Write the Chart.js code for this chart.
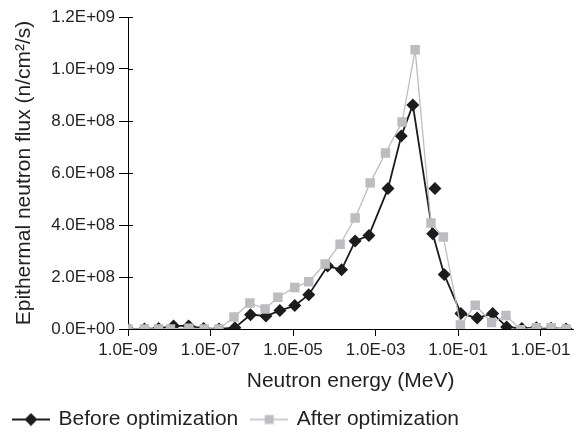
<!DOCTYPE html>
<html><head><meta charset="utf-8">
<script src="https://cdn.jsdelivr.net/npm/chart.js@4/dist/chart.umd.min.js"></script>
<style>html,body{margin:0;padding:0;background:#fff}#wrap{width:580px;height:433px}</style>
</head><body><div id="wrap"><canvas id="c" width="580" height="433"></canvas></div>
<script>
// ---- data ----
const seriesNames = ['Before optimization', 'After optimization'];
const beforeEnergy = [1.0e-9, 2.5e-9, 5.5e-9, 1.27e-8, 2.95e-8, 6.8e-8, 1.6e-7, 3.9e-7, 9.3e-7, 2.2e-6,
  4.8e-6, 1.1e-5, 2.4e-5, 6.9e-5, 1.5e-4, 3.2e-4, 6.9e-4, 2.0e-3, 4.2e-3, 8.0e-3,
  2.43e-2, 4.6e-2, 0.117, 0.29, 0.69, 1.5, 3.5, 7.9, 18, 41.5];
const beforeFlux = [0, 0, 2e6, 1.2e7, 1.2e7, 2e6, 0, 5e6, 5.5e7, 5.0e7,
  7.1e7, 9.0e7, 1.32e8, 2.42e8, 2.28e8, 3.38e8, 3.6e8, 5.4e8, 7.42e8, 8.62e8,
  3.66e8, 2.1e8, 6.0e7, 4.2e7, 6.0e7, 8e6, 2e6, 5e6, 3e6, 0];
const beforeExtraEnergy = [2.75e-2];
const beforeExtraFlux = [5.4e8];
const afterEnergy = [1.0e-9, 2.5e-9, 5.5e-9, 1.07e-8, 3.0e-8, 7.0e-8, 1.6e-7, 3.7e-7, 9.0e-7, 2.1e-6,
  4.3e-6, 1.1e-5, 2.4e-5, 6.0e-5, 1.38e-4, 3.2e-4, 7.4e-4, 1.74e-3, 4.4e-3, 9.1e-3,
  2.2e-2, 4.4e-2, 0.114, 0.26, 0.65, 1.45, 3.3, 7.9, 18, 41.5];
const afterFlux = [0, 0, 0, 0, 3e6, 0, 0, 4.6e7, 1.0e8, 7.7e7,
  1.22e8, 1.6e8, 1.82e8, 2.5e8, 3.26e8, 4.27e8, 5.62e8, 6.77e8, 7.96e8, 1.074e9,
  4.08e8, 3.54e8, 1.5e7, 9.1e7, 2.5e7, 5.2e7, -3e6, 5e6, 5e6, 0];
const xTickValues = [1e-9, 1e-7, 1e-5, 1e-3, 1e-1, 1e1];
const xTickLabels = ['1.0E-09', '1.0E-07', '1.0E-05', '1.0E-03', '1.0E-01', '1.0E-01'];
const yTickValues = [0, 2e8, 4e8, 6e8, 8e8, 1e9, 1.2e9];
const yTickLabels = ['0.0E+00', '2.0E+08', '4.0E+08', '6.0E+08', '8.0E+08', '1.0E+09', '1.2E+09'];
const xAxisTitle = 'Neutron energy (MeV)';
const yAxisTitle = 'Epithermal neutron flux (n/cm\u00B2/s)';

// ---- styles ----
const BLACK = '#1c1c1c';
const GREY = '#bcbdc0';
const FONT = 'Liberation Sans, Arial, sans-serif';
const TEXT = '#231f20';

const beforeData = beforeEnergy.map((x, i) => ({x, y: beforeFlux[i]}));
beforeData.push({x: beforeExtraEnergy[0], y: null});
beforeExtraEnergy.forEach((x, i) => beforeData.push({x, y: beforeExtraFlux[i]}));
const afterData = afterEnergy.map((x, i) => ({x, y: afterFlux[i]}));

function legendImg(lineColor, lineW, shape, fill) {
  const c = document.createElement('canvas');
  c.width = 38; c.height = 14;
  const g = c.getContext('2d');
  g.strokeStyle = lineColor; g.lineWidth = lineW;
  g.beginPath(); g.moveTo(0, 7); g.lineTo(38, 7); g.stroke();
  g.fillStyle = fill;
  if (shape === 'diamond') {
    g.beginPath(); g.moveTo(12.5, 7); g.lineTo(19, 0.5); g.lineTo(25.5, 7); g.lineTo(19, 13.5); g.closePath(); g.fill();
  } else {
    g.fillRect(14.5, 2.5, 9, 9);
  }
  return c;
}
const legendImgs = [legendImg(BLACK, 1.8, 'diamond', BLACK), legendImg(GREY, 1.3, 'square', GREY)];

const innerTicks = {
  id: 'innerTicks',
  beforeDatasetsDraw(chart) {
    const {ctx, chartArea, scales} = chart;
    const y = scales.y;
    ctx.save();
    ctx.strokeStyle = '#000'; ctx.lineWidth = 1;
    y.ticks.forEach(t => {
      const py = Math.round(y.getPixelForValue(t.value)) + 0.5;
      ctx.beginPath(); ctx.moveTo(chartArea.left, py); ctx.lineTo(chartArea.left + 5, py); ctx.stroke();
    });
    ctx.restore();
  }
};
const legendHeight = {
  id: 'legendHeight',
  beforeUpdate(chart) {
    const lg = chart.legend;
    if (lg && !lg._patched) {
      const orig = lg.fit;
      lg.fit = function () { orig.call(this); this.height = 38; };
      lg._patched = true;
    }
  }
};

new Chart(document.getElementById('c'), {
  type: 'scatter',
  data: {
    datasets: [
      {label: seriesNames[0], data: beforeData, showLine: true, borderColor: BLACK, backgroundColor: BLACK,
       borderWidth: 1.8, pointStyle: 'rectRot', pointRadius: 6.5, pointBorderWidth: 0, order: 1},
      {label: seriesNames[1], data: afterData, showLine: true, borderColor: GREY, backgroundColor: GREY,
       borderWidth: 1.3, pointStyle: 'rect', pointRadius: 6.7, pointBorderWidth: 0, order: 0}
    ]
  },
  options: {
    responsive: false,
    animation: false,
    devicePixelRatio: 1,
    layout: {padding: {left: 0, right: 3, top: 17, bottom: 0}},
    scales: {
      x: {
        type: 'logarithmic', min: 1e-9, max: 62, bounds: 'data',
        afterBuildTicks: s => { s.ticks = xTickValues.map(v => ({value: v})); },
        afterFit: s => { s.height = 66; },
        ticks: {callback: (v, i) => xTickLabels[i], autoSkip: false, maxRotation: 0, padding: 4,
                font: {family: FONT, size: 17}, color: TEXT},
        grid: {drawOnChartArea: false, drawTicks: true, tickLength: 7, color: '#000'},
        border: {color: '#000', width: 1},
        title: {display: true, text: xAxisTitle, font: {family: FONT, size: 21}, color: TEXT, padding: {top: 0, bottom: 1}}
      },
      y: {
        type: 'linear', min: 0, max: 1.2e9,
        afterBuildTicks: s => { s.ticks = yTickValues.map(v => ({value: v})); },
        afterFit: s => { s.width = 128; },
        ticks: {callback: (v, i) => yTickLabels[i], padding: 4, font: {family: FONT, size: 17}, color: TEXT},
        grid: {drawOnChartArea: false, drawTicks: true, tickLength: 9, color: '#000'},
        border: {color: '#000', width: 1},
        title: {display: true, text: yAxisTitle, font: {family: FONT, size: 21}, color: TEXT, padding: {top: 12, bottom: 0}}
      }
    },
    plugins: {
      legend: {
        position: 'bottom', align: 'start',
        labels: {
          usePointStyle: true, pointStyleWidth: 34, padding: 14,
          font: {family: FONT, size: 21}, color: TEXT,
          generateLabels: () => seriesNames.map((t, i) => ({
            text: t, pointStyle: legendImgs[i], fillStyle: 'transparent', strokeStyle: 'transparent',
            lineWidth: 0, hidden: false, datasetIndex: i, fontColor: TEXT
          }))
        }
      },
      tooltip: {enabled: false}
    }
  },
  plugins: [innerTicks, legendHeight]
});
</script></body></html>
